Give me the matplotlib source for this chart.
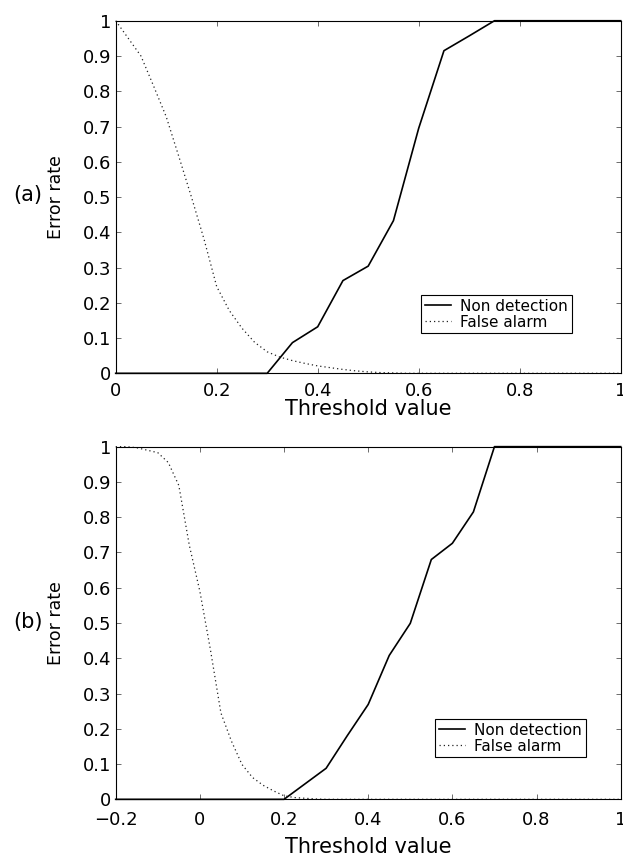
import matplotlib
matplotlib.use("Agg")
import matplotlib.pyplot as plt
from matplotlib.ticker import FuncFormatter, MultipleLocator

plt.rcParams['font.family'] = ['DejaVu Sans']

# panel (a): non detection sampled every 0.05, false alarm every 0.025
thr_a_nd = [0.0, 0.05, 0.1, 0.15, 0.2, 0.25, 0.3, 0.35, 0.4, 0.45, 0.5,
            0.55, 0.6, 0.65, 0.7, 0.75, 0.8, 0.85, 0.9, 0.95, 1.0]
nondet_a = [0, 0, 0, 0, 0, 0, 0, 0.087, 0.132, 0.263, 0.304,
            0.433, 0.695, 0.915, 0.957, 1.0, 1.0, 1.0, 1.0, 1.0, 1.0]

thr_a_fa = [0.0, 0.025, 0.05, 0.075, 0.1, 0.125, 0.15, 0.175, 0.2, 0.225,
            0.25, 0.275, 0.3, 0.325, 0.35, 0.375, 0.4, 0.425, 0.45, 0.475,
            0.5, 0.525, 0.55, 0.575, 0.6, 0.7, 0.8, 0.9, 1.0]
falarm_a = [1.0, 0.95, 0.9, 0.815, 0.728, 0.615, 0.5, 0.38, 0.246, 0.178,
            0.128, 0.088, 0.061, 0.046, 0.036, 0.028, 0.021, 0.016, 0.011, 0.007,
            0.004, 0.002, 0.001, 0.0, 0.0, 0.0, 0.0, 0.0, 0.0]

# panel (b)
thr_b_nd = [-0.2, -0.15, -0.1, -0.05, 0.0, 0.05, 0.1, 0.15, 0.2, 0.25, 0.3,
            0.35, 0.4, 0.45, 0.5, 0.55, 0.6, 0.65, 0.7, 0.75, 0.8, 0.85, 0.9, 0.95, 1.0]
nondet_b = [0, 0, 0, 0, 0, 0, 0, 0, 0, 0.044, 0.088,
            0.18, 0.269, 0.408, 0.499, 0.68, 0.726, 0.815, 1.0, 1.0, 1.0, 1.0, 1.0, 1.0, 1.0]

thr_b_fa = [-0.2, -0.175, -0.15, -0.125, -0.1, -0.075, -0.05, -0.025, 0.0, 0.025,
            0.05, 0.075, 0.1, 0.125, 0.15, 0.175, 0.2, 0.225, 0.25, 0.275,
            0.3, 0.4, 0.5, 0.6, 0.7, 0.8, 0.9, 1.0]
falarm_b = [1.0, 1.0, 0.997, 0.99, 0.983, 0.955, 0.89, 0.72, 0.59, 0.425,
            0.245, 0.165, 0.099, 0.062, 0.04, 0.024, 0.01, 0.005, 0.003, 0.001,
            0.0, 0.0, 0.0, 0.0, 0.0, 0.0, 0.0, 0.0]

panels = [
    ("(a)", thr_a_nd, nondet_a, thr_a_fa, falarm_a, (0.0, 1.0)),
    ("(b)", thr_b_nd, nondet_b, thr_b_fa, falarm_b, (-0.2, 1.0)),
]

fig = plt.figure(figsize=(6.23, 8.57), dpi=100)

ax_rects = [[0.1857, 0.5644, 0.8106, 0.4114],
            [0.1857, 0.0673, 0.8106, 0.4115]]
legend_anchor = [(0.6046, 0.2221), (0.6323, 0.2277)]
xlabel_y = [-0.0740, -0.1060]
xtick_pad = [6.0, 8.5]
tag_y = [1 - 195 / 857, 1 - 622 / 857]


def tick_fmt(v, pos):
    # matlab-style labels with a long minus sign
    return ("%g" % round(v, 2)).replace("-", "\u2212")


for i, (tag, xn, yn, xf, yf, xlim) in enumerate(panels):
    ax = fig.add_axes(ax_rects[i])
    ax.plot(xn, yn, color="black", lw=1.2, label="Non detection", clip_on=False)
    ax.plot(xf, yf, color="#222222", lw=0.9, linestyle=(0, (1, 2.4)),
            label="False alarm", clip_on=False)

    ax.set_xlim(*xlim)
    ax.set_ylim(0, 1)
    ax.xaxis.set_major_locator(MultipleLocator(0.2))
    ax.yaxis.set_major_locator(MultipleLocator(0.1))
    ax.xaxis.set_major_formatter(FuncFormatter(tick_fmt))
    ax.yaxis.set_major_formatter(FuncFormatter(tick_fmt))

    ax.tick_params(direction="in", top=True, right=True, length=3.5,
                   width=0.6, color="#555555", labelsize=13)
    ax.tick_params(axis="x", pad=xtick_pad[i])
    ax.tick_params(axis="y", pad=3)
    for sp in ax.spines.values():
        sp.set_linewidth(0.8)

    ax.set_xlabel("Threshold value", fontsize=15)
    ax.xaxis.set_label_coords(0.5, xlabel_y[i])
    ax.set_ylabel("Error rate", fontsize=12.5)
    ax.yaxis.set_label_coords(-0.1004, 0.5)

    leg = ax.legend(loc="upper left", bbox_to_anchor=legend_anchor[i],
                    fontsize=11, fancybox=False, framealpha=1,
                    edgecolor="black", borderaxespad=0, borderpad=0.25,
                    labelspacing=0.05, handlelength=1.7, handletextpad=0.6)
    leg.get_frame().set_linewidth(0.8)

    fig.text(28 / 623, tag_y[i], tag, fontsize=15, ha="center", va="center")

fig.savefig("out.png", dpi=100)
